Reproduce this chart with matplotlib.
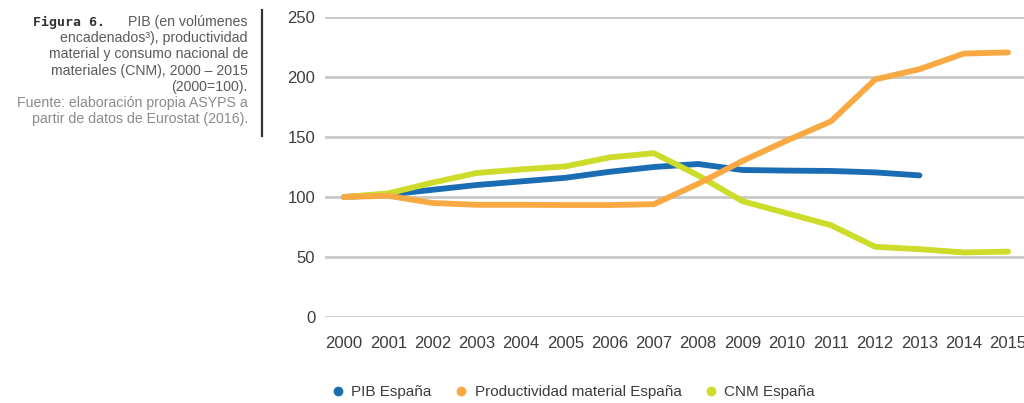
import numpy as np
import matplotlib
matplotlib.use('Agg')
import matplotlib.pyplot as plt
from matplotlib.lines import Line2D

#%% data

years = list(range(2000, 2016))

pib = [100, 102, 106, 110, 113, 116, 121, 125, 127.5, 122.5, 122, 121.7, 120.5, 118]
productividad = [100, 101, 95, 93.5, 93.5, 93.3, 93.3, 94, 111, 130, 147, 163, 198, 206.5, 219.5, 220.5]
cnm = [100, 103, 112, 120, 123, 125.5, 133, 136.5, 118, 96.5, 86.5, 76.5, 58.5, 56.5, 53.8, 54.5]

yticks = [0, 50, 100, 150, 200, 250]

c_pib = '#1a6db3'
c_prod = '#f9a942'
c_cnm = '#cddb2a'
c_txt = '#3c3c3c'

plt.rcParams['font.family'] = ['Liberation Sans', 'DejaVu Sans']

#%% figure

fig = plt.figure(figsize=(10.24, 4.03), dpi=100)
W, H = 1024.0, 403.0

# axes: left edge at gridline start, 0 at y=317 px, 250 at y=17 px
ax = fig.add_axes([325/W, (H-317)/H, (1024-325)/W, 300/H])
ax.set_xlim(2000 - 19/44.27, 2015 + 16/44.27)
ax.set_ylim(0, 250)

for s in ax.spines.values():
    s.set_visible(False)

ax.set_yticks(yticks)
ax.set_xticks(years)
ax.set_xticklabels([str(y) for y in years])
ax.tick_params(axis='both', length=0, labelsize=12, labelcolor=c_txt)
ax.tick_params(axis='y', pad=7)
ax.tick_params(axis='x', pad=14)
ax.grid(axis='y', color='#c9c9c9', linewidth=2)
ax.set_axisbelow(True)

lw = 4.2
ax.plot(years[:len(pib)], pib, color=c_pib, lw=lw, solid_capstyle='round', solid_joinstyle='round', clip_on=False, zorder=3)
ax.plot(years, cnm, color=c_cnm, lw=lw, solid_capstyle='round', solid_joinstyle='round', clip_on=False, zorder=4)
ax.plot(years, productividad, color=c_prod, lw=lw, solid_capstyle='round', solid_joinstyle='round', clip_on=False, zorder=5)

# legend
handles = [Line2D([], [], color=c, marker='o', linestyle='none', markersize=6)
           for c in (c_pib, c_prod, c_cnm)]
fig.legend(handles, ['PIB España', 'Productividad material España', 'CNM España'],
           loc='center', bbox_to_anchor=(574/W, 1 - 392/H), ncol=3, frameon=False,
           fontsize=11, handlelength=0.6, handletextpad=0.6, columnspacing=1.6,
           labelcolor=c_txt)

#%% caption on the left

c_cap = '#5a5a5a'
c_src = '#8a8a8a'
xr = 248/W
lines = [
    ('PIB (en volúmenes', c_cap),
    ('encadenados³), productividad', c_cap),
    ('material y consumo nacional de', c_cap),
    ('materiales (CNM), 2000 – 2015', c_cap),
    ('(2000=100).', c_cap),
    ('Fuente: elaboración propia ASYPS a', c_src),
    ('partir de datos de Eurostat (2016).', c_src),
]
y0 = 22
for i, (t, c) in enumerate(lines):
    fig.text(xr, 1 - (y0 + i*16.2)/H, t, ha='right', va='center', fontsize=10.2, color=c)

fig.text(33/W, 1 - y0/H, 'Figura 6.', ha='left', va='center', fontsize=9.5,
         family='DejaVu Sans Mono', weight='bold', color='#333333')

fig.add_artist(Line2D([262/W, 262/W], [1 - 10/H, 1 - 136/H], color='#333333', lw=1.6))

fig.savefig('out.png', dpi=100)
